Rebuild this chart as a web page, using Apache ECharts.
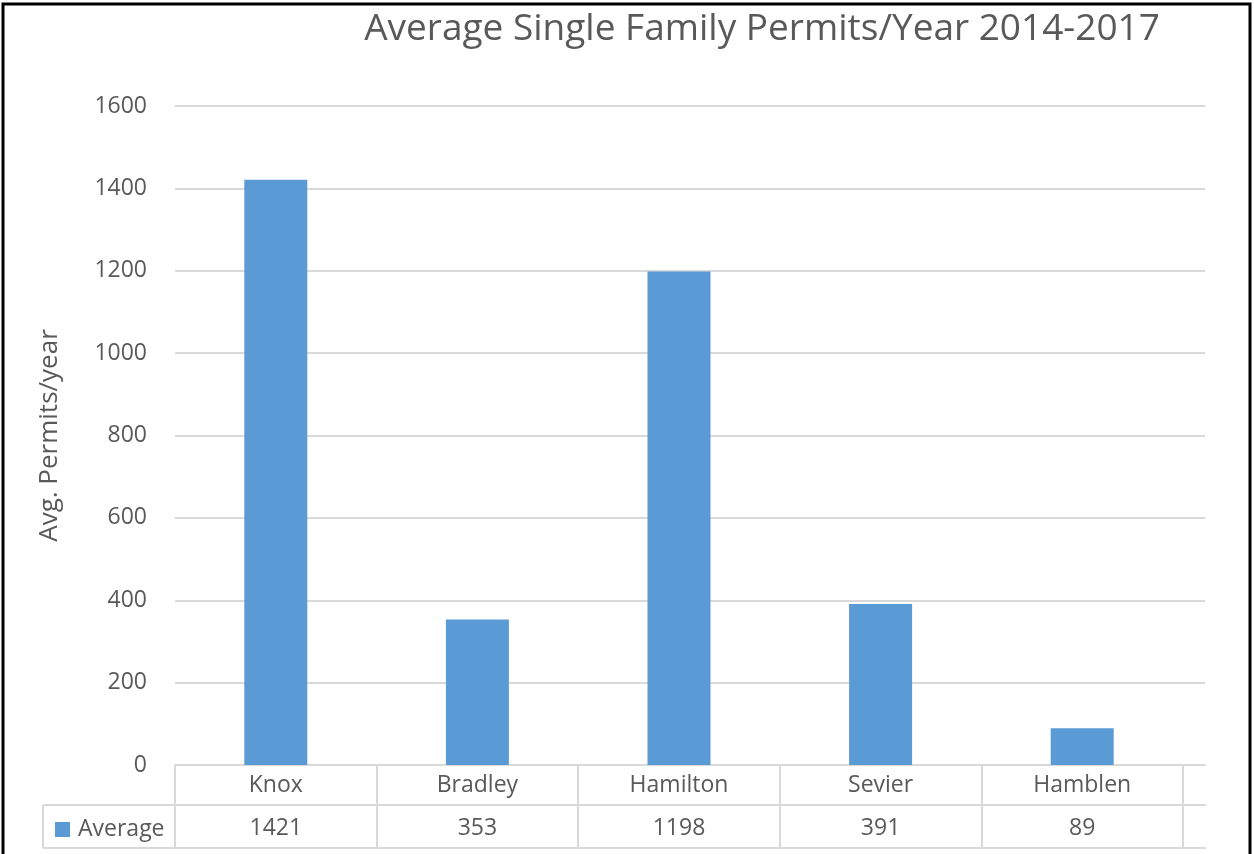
<!DOCTYPE html>
<html>
<head>
<meta charset="utf-8">
<script src="https://cdn.jsdelivr.net/npm/echarts@6/dist/echarts.min.js"></script>
<style>
  html, body { margin: 0; padding: 0; background: #fff; }
  #chart { width: 1254px; height: 854px; }
</style>
</head>
<body>
<div id="chart"></div>
<script>
// data
var counties = ['Knox', 'Bradley', 'Hamilton', 'Sevier', 'Hamblen'];
var averages = [1421, 353, 1198, 391, 89];
var seriesName = 'Average';

(function () {
  var ink = '#595959';
  var rule = '#d9d9d9';
  var blue = '#5b9bd5';
  var font = '"Open Sans", "Liberation Sans", sans-serif';

  var chart = echarts.init(document.getElementById('chart'), null, { renderer: 'canvas' });
  chart.setOption({
    animation: false,
    title: {
      text: 'Average Single Family Permits/Year 2014-2017',
      left: 757,
      textAlign: 'center',
      top: 6,
      textStyle: { color: ink, fontSize: 37, fontWeight: 'normal', fontFamily: font }
    },
    legend: {
      left: 50,
      top: 813,
      itemWidth: 15,
      itemHeight: 15,
      itemGap: 0,
      icon: 'rect',
      textStyle: { color: ink, fontSize: 23, fontFamily: font, padding: [0, 0, 0, 3] },
      data: [seriesName]
    },
    grid: [
      // gridlines + y labels span the wider area
      { left: 175, right: 49, top: 106, bottom: 89 },
      // bars + data table
      { left: 175, right: 71, top: 106, bottom: 89 }
    ],
    xAxis: [
      {
        gridIndex: 0, type: 'category', data: counties,
        axisLine: { show: true, lineStyle: { color: rule, width: 2 } },
        axisTick: { show: false }, axisLabel: { show: false }
      },
      {
        gridIndex: 1, type: 'category', data: counties,
        axisLine: { show: false },
        axisTick: { show: true, interval: 0, length: 83, lineStyle: { color: rule, width: 2 } },
        axisLabel: { color: ink, fontSize: 23, fontFamily: font, margin: 9 }
      },
      {
        gridIndex: 1, type: 'category', position: 'bottom', offset: 40,
        data: averages.map(function (v) { return String(v); }),
        axisLine: { show: false }, axisTick: { show: false },
        axisLabel: { color: ink, fontSize: 23, fontFamily: font, margin: 12 }
      }
    ],
    yAxis: [
      {
        gridIndex: 0, type: 'value', min: 0, max: 1600, interval: 200,
        name: 'Avg. Permits/year',
        nameLocation: 'middle',
        nameGap: 112,
        nameTextStyle: { color: ink, fontSize: 26, fontFamily: font },
        axisLine: { show: false }, axisTick: { show: false },
        axisLabel: {
          color: ink, fontSize: 23, fontFamily: font, margin: 28,
          formatter: function (v) { return String(v); }
        },
        splitLine: { lineStyle: { color: rule, width: 2 } }
      },
      {
        gridIndex: 1, type: 'value', min: 0, max: 1600, interval: 200,
        show: false
      }
    ],
    series: [{
      name: seriesName,
      type: 'bar',
      xAxisIndex: 1,
      yAxisIndex: 1,
      data: averages,
      barWidth: 63,
      itemStyle: { color: blue }
    }],
    graphic: [
      { type: 'line', shape: { x1: 43, y1: 805, x2: 1206, y2: 805 }, style: { stroke: rule, lineWidth: 2 } },
      { type: 'line', shape: { x1: 43, y1: 848, x2: 1206, y2: 848 }, style: { stroke: rule, lineWidth: 2 } },
      { type: 'line', shape: { x1: 43, y1: 805, x2: 43, y2: 848 }, style: { stroke: rule, lineWidth: 2 } },
      { type: 'rect', shape: { x: 3, y: 4, width: 1247, height: 900 }, style: { fill: 'none', stroke: '#000', lineWidth: 3 } }
    ]
  });
})();
</script>
</body>
</html>
